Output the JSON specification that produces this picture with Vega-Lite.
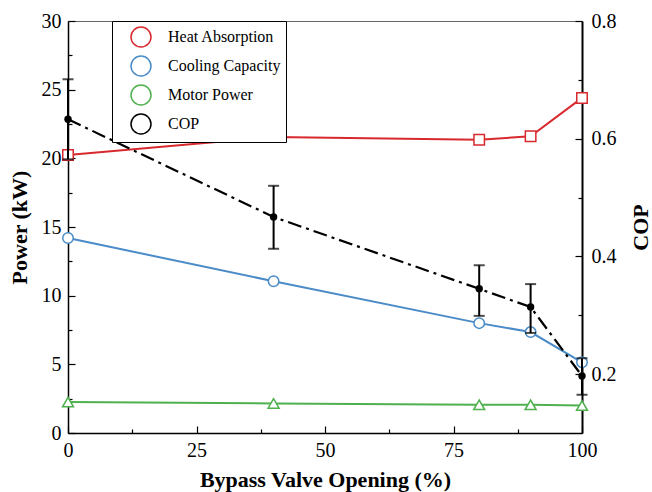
{
  "$schema": "https://vega.github.io/schema/vega-lite/v6.json",
  "width": 514,
  "height": 412,
  "autosize": {"type": "none"},
  "padding": {"left": 68, "top": 21, "right": 70, "bottom": 59},
  "background": "white",
  "config": {
    "view": {"stroke": "#666666", "strokeWidth": 1},
    "font": "Liberation Serif",
    "axis": {
      "grid": false,
      "domainColor": "black",
      "domainWidth": 1.5,
      "tickColor": "black",
      "tickWidth": 1.2,
      "labelColor": "black",
      "titleColor": "black",
      "labelFont": "Liberation Serif",
      "titleFont": "Liberation Serif",
      "labelFontSize": 20,
      "labelFontWeight": "normal",
      "titleFontSize": 22,
      "titleFontWeight": "bold"
    },
    "legend": {
      "labelFont": "Liberation Serif",
      "labelFontSize": 16,
      "labelColor": "black",
      "labelLimit": 300
    }
  },
  "data": {
    "values": [
      {"x": 0, "series": "Heat Absorption", "power": 20.25},
      {"x": 40, "series": "Heat Absorption", "power": 21.55},
      {"x": 80, "series": "Heat Absorption", "power": 21.35},
      {"x": 90, "series": "Heat Absorption", "power": 21.6},
      {"x": 100, "series": "Heat Absorption", "power": 24.4},
      {"x": 0, "series": "Cooling Capacity", "power": 14.2},
      {"x": 40, "series": "Cooling Capacity", "power": 11.05},
      {"x": 80, "series": "Cooling Capacity", "power": 8.0},
      {"x": 90, "series": "Cooling Capacity", "power": 7.35},
      {"x": 100, "series": "Cooling Capacity", "power": 5.15},
      {"x": 0, "series": "Motor Power", "power": 2.25},
      {"x": 40, "series": "Motor Power", "power": 2.15},
      {"x": 80, "series": "Motor Power", "power": 2.05},
      {"x": 90, "series": "Motor Power", "power": 2.05},
      {"x": 100, "series": "Motor Power", "power": 2.0},
      {"x": 0, "series": "COP", "cop": 0.633, "lo": 0.565, "hi": 0.701},
      {"x": 40, "series": "COP", "cop": 0.467, "lo": 0.413, "hi": 0.52},
      {"x": 80, "series": "COP", "cop": 0.345, "lo": 0.299, "hi": 0.385},
      {"x": 90, "series": "COP", "cop": 0.314, "lo": 0.27, "hi": 0.353},
      {"x": 100, "series": "COP", "cop": 0.197, "lo": 0.165, "hi": 0.227}
    ]
  },
  "encoding": {
    "x": {
      "field": "x",
      "type": "quantitative",
      "scale": {"domain": [0, 100], "nice": false, "zero": false},
      "axis": {
        "title": "Bypass Valve Opening (%)",
        "values": [0, 12.5, 25, 37.5, 50, 62.5, 75, 87.5, 100],
        "labelExpr": "datum.value % 25 === 0 ? datum.label : ''",
        "tickSize": {"condition": {"test": "datum.value % 25 === 0", "value": -7}, "value": -4},
        "labelPadding": 14,
        "labelFlush": false,
        "titlePadding": 9
      }
    }
  },
  "layer": [
    {
      "transform": [{"filter": "datum.series !== 'COP'"}],
      "encoding": {
        "y": {
          "field": "power",
          "type": "quantitative",
          "scale": {"domain": [0, 30], "nice": false},
          "axis": {
            "title": "Power (kW)",
            "orient": "left",
            "values": [0, 2.5, 5, 7.5, 10, 12.5, 15, 17.5, 20, 22.5, 25, 27.5, 30],
            "labelExpr": "datum.value % 5 === 0 ? datum.label : ''",
            "tickSize": {"condition": {"test": "datum.value % 5 === 0", "value": -7}, "value": -4},
            "labelPadding": 14,
            "labelFlush": false,
            "titlePadding": 10
          }
        }
      },
      "layer": [
        {
          "mark": {"type": "line", "strokeWidth": 2},
          "encoding": {
            "color": {
              "field": "series",
              "type": "nominal",
              "scale": {
                "domain": ["Heat Absorption", "Cooling Capacity", "Motor Power", "COP"],
                "range": ["#d8292e", "#4a8bc8", "#4fb04e", "#000000"]
              }
            }
          }
        },
        {
          "transform": [{"filter": "datum.series === 'Heat Absorption'"}],
          "mark": {"type": "point", "shape": "square", "filled": false, "fill": "white", "fillOpacity": 1, "opacity": 1, "strokeWidth": 1.5, "size": 110},
          "encoding": {
            "color": {
              "field": "series",
              "type": "nominal",
              "legend": {
                "orient": "none",
                "legendX": 44,
                "legendY": 0,
                "title": null,
                "fillColor": "white",
                "strokeColor": "black",
                "padding": 5,
                "labelFont": "Liberation Serif",
                "labelFontSize": 16,
                "labelColor": "black",
                "labelLimit": 300,
                "symbolSize": 400,
                "rowPadding": 3,
                "symbolOffset": 13,
                "labelOffset": 16,
                "encode": {
                  "symbols": {
                    "shape": {"value": {"expr": "datum.value === 'Heat Absorption' ? 'M-2.3,0H-0.6M0.6,0H2.3M-0.6,-0.6H0.6V0.6H-0.6Z' : datum.value === 'Cooling Capacity' ? 'M-2.3,0H-0.6M0.6,0H2.3M-0.6,0A0.6,0.6,0,1,0,0.6,0A0.6,0.6,0,1,0,-0.6,0Z' : datum.value === 'Motor Power' ? 'M-2.3,0.2H-0.65M0.65,0.2H2.3M0,-0.6L0.72,0.55H-0.72Z' : 'M-2.3,0H2.3M-0.4,0A0.4,0.4,0,1,0,0.4,0A0.4,0.4,0,1,0,-0.4,0Z'"}},
                    "fill": {"value": {"expr": "datum.value === 'COP' ? 'black' : 'white'"}},
                    "fillOpacity": {"value": 1},
                    "opacity": {"value": 1},
                    "strokeWidth": {"value": 1.8}
                  }
                }
              }
            }
          }
        },
        {
          "transform": [{"filter": "datum.series === 'Cooling Capacity'"}],
          "mark": {"type": "point", "shape": "circle", "filled": false, "fill": "white", "fillOpacity": 1, "opacity": 1, "strokeWidth": 1.5, "size": 110},
          "encoding": {
            "color": {"field": "series", "type": "nominal"}
          }
        },
        {
          "transform": [{"filter": "datum.series === 'Motor Power'"}],
          "mark": {"type": "point", "shape": "triangle-up", "filled": false, "fill": "white", "fillOpacity": 1, "opacity": 1, "strokeWidth": 1.5, "size": 120},
          "encoding": {
            "color": {"field": "series", "type": "nominal"}
          }
        }
      ]
    },
    {
      "transform": [{"filter": "datum.series === 'COP'"}],
      "layer": [
        {
          "mark": {"type": "line", "strokeWidth": 2.2, "strokeDash": [14, 5, 3, 5]},
          "encoding": {
            "y": {
              "field": "cop",
              "type": "quantitative",
              "scale": {"domain": [0.1, 0.8], "nice": false, "zero": false},
              "axis": {
                "title": "COP",
                "orient": "right",
                "titleAngle": 270,
                "domainWidth": 2,
                "values": [0.2, 0.3, 0.4, 0.5, 0.6, 0.7, 0.8],
                "labelExpr": "round(datum.value * 10) % 2 === 0 ? format(datum.value, '.1f') : ''",
                "tickSize": {"condition": {"test": "round(datum.value * 10) % 2 === 0", "value": -7}, "value": -4},
                "labelPadding": 16,
                "labelFlush": false,
                "titlePadding": 36
              }
            },
            "color": {"field": "series", "type": "nominal"}
          }
        },
        {
          "mark": {"type": "errorbar", "color": "black", "thickness": 2, "ticks": {"size": 11, "thickness": 2, "color": "black"}},
          "encoding": {
            "y": {"field": "lo", "type": "quantitative", "title": "COP"},
            "y2": {"field": "hi"}
          }
        },
        {
          "mark": {"type": "point", "filled": true, "color": "black", "opacity": 1, "size": 55},
          "encoding": {
            "y": {"field": "cop", "type": "quantitative", "title": "COP"}
          }
        }
      ]
    }
  ],
  "resolve": {"scale": {"y": "independent"}}
}
